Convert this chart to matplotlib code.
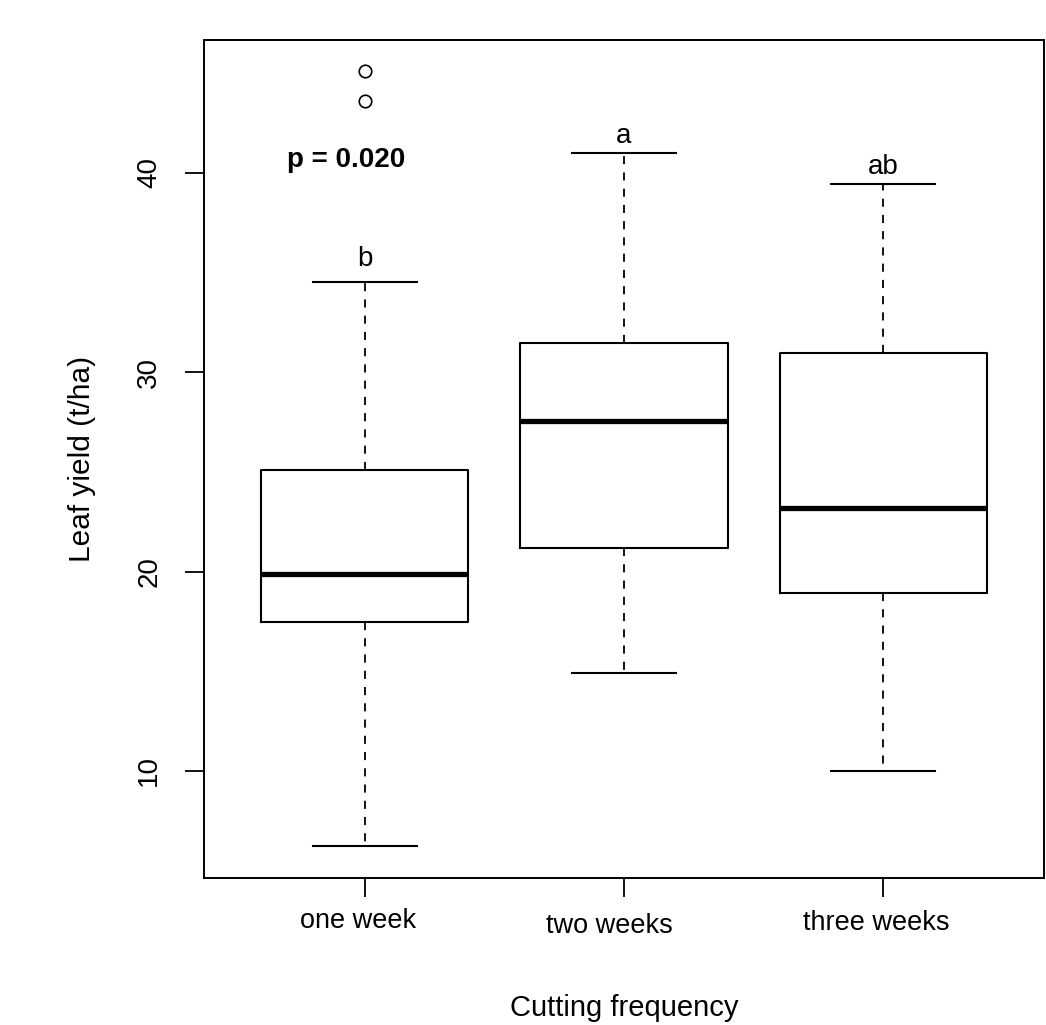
import matplotlib
matplotlib.use('Agg')
import matplotlib.pyplot as plt
from matplotlib.transforms import ScaledTranslation

plt.rcParams['font.family'] = ['Liberation Sans', 'DejaVu Sans']

# box statistics
groups = ['one week', 'two weeks', 'three weeks']
whislo = [6.25, 14.9, 10.0]
q1 = [17.45, 21.2, 18.95]
med = [19.9, 27.55, 23.2]
q3 = [25.1, 31.45, 30.95]
whishi = [34.55, 41.0, 39.45]
fliers = [[43.6, 45.1], [], []]

letters = ['b', 'a', 'ab']
letter_gap = [0.5, 0.2, 0.2]
p_text = 'p = 0.020'

stats = []
for i in range(len(groups)):
    stats.append({'whislo': whislo[i], 'q1': q1[i], 'med': med[i], 'q3': q3[i],
                  'whishi': whishi[i], 'fliers': fliers[i], 'label': groups[i]})

fig = plt.figure(figsize=(10.46, 10.25), dpi=100)
ax = fig.add_axes([204 / 1046, 147 / 1025, 840 / 1046, 838 / 1025])

pos = [1, 2, 3]
ax.bxp(stats, positions=pos, widths=0.8, patch_artist=False,
       boxprops=dict(color='black', linewidth=1.5),
       medianprops=dict(color='black', linewidth=3.8, solid_capstyle='butt'),
       whiskerprops=dict(color='black', linewidth=1.3, linestyle=(0, (4.5, 4.5))),
       capprops=dict(color='black', linewidth=1.5),
       capwidths=0.4,
       flierprops=dict(marker='o', markersize=9, markerfacecolor='none',
                       markeredgecolor='black', markeredgewidth=1.2))

ax.set_xlim(0.38, 3.62)
ax.set_ylim(4.63, 46.67)

for s in ax.spines.values():
    s.set_linewidth(1.4)

ax.set_yticks([10, 20, 30, 40])
ax.set_yticklabels(['10', '20', '30', '40'], rotation=90, va='center', fontsize=20)
ax.tick_params(axis='y', length=14, width=1.3, pad=16)

ax.set_xticks(pos)
ax.set_xticklabels(groups, fontsize=19.5)
ax.tick_params(axis='x', length=14, width=1.3, pad=9)
# small offsets of the category labels as in the original
offs = [(-7, 2), (-15, -3), (-7, 0)]
for lab, (dx, dy) in zip(ax.get_xticklabels(), offs):
    lab.set_transform(lab.get_transform() + ScaledTranslation(dx / 100, dy / 100, fig.dpi_scale_trans))

ax.set_xlabel('Cutting frequency', fontsize=21, labelpad=40)
ax.set_ylabel('Leaf yield (t/ha)', fontsize=21.5, labelpad=29)

for x, t, w, g in zip(pos, letters, whishi, letter_gap):
    ax.text(x, w + g, t, ha='center', va='bottom', fontsize=20)

ax.text(1 - 0.07, 40.65, p_text, ha='center', va='center', fontsize=20, fontweight='bold')

fig.savefig('out.png', dpi=100)
